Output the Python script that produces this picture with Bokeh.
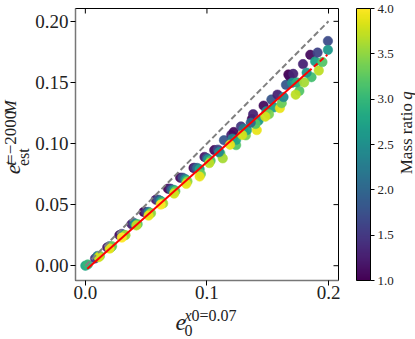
import math
from bokeh.plotting import figure
from bokeh.layouts import row, column
from bokeh.models import (Range1d, LinearAxis, FixedTicker, NumeralTickFormatter,
                          ColorBar, LinearColorMapper, Label, ColumnDataSource)
from bokeh.palettes import Viridis256
from bokeh.embed import file_html
from bokeh.resources import INLINE

# ---------------- data ----------------
e0 = [0.000, 0.002,
      0.008, 0.010, 0.012, 0.011,
      0.018, 0.020, 0.021, 0.022, 0.020,
      0.028, 0.030, 0.031, 0.032, 0.033, 0.030,
      0.038, 0.040, 0.041, 0.043, 0.042,
      0.048, 0.050, 0.052, 0.053, 0.054, 0.052,
      0.058, 0.060, 0.062, 0.063, 0.064, 0.062,
      0.068, 0.070, 0.071, 0.073, 0.074, 0.073,
      0.078, 0.080, 0.082, 0.083, 0.084, 0.083,
      0.089, 0.090, 0.092, 0.094, 0.095, 0.094,
      0.098, 0.100, 0.101, 0.103, 0.102,
      0.106, 0.109, 0.111, 0.113, 0.110, 0.114,
      0.120, 0.122, 0.124, 0.121, 0.124, 0.119,
      0.128, 0.130, 0.132, 0.133, 0.129,
      0.137, 0.138, 0.1425, 0.141, 0.140, 0.136,
      0.1466, 0.149, 0.153, 0.155, 0.151, 0.148,
      0.160, 0.1615, 0.158, 0.163, 0.165, 0.167,
      0.168, 0.171, 0.170, 0.176, 0.173, 0.174,
      0.179, 0.185, 0.186, 0.182, 0.180,
      0.189, 0.191, 0.192, 0.195,
      0.1995, 0.1995]
e_est = [0.000, 0.001,
         0.006, 0.008, 0.008, 0.007,
         0.015, 0.016, 0.015, 0.016, 0.014,
         0.025, 0.026, 0.025, 0.025, 0.025, 0.023,
         0.034, 0.035, 0.034, 0.034, 0.033,
         0.044, 0.044, 0.044, 0.043, 0.043, 0.041,
         0.054, 0.054, 0.053, 0.052, 0.051, 0.050,
         0.063, 0.063, 0.062, 0.062, 0.061, 0.059,
         0.072, 0.072, 0.071, 0.070, 0.069, 0.067,
         0.080, 0.080, 0.080, 0.079, 0.075, 0.073,
         0.089, 0.088, 0.087, 0.086, 0.084,
         0.0946, 0.095, 0.092, 0.0879, 0.093, 0.1027,
         0.107, 0.1094, 0.0987, 0.104, 0.103, 0.099,
         0.114, 0.112, 0.1067, 0.111, 0.107,
         0.120, 0.124, 0.1188, 0.111, 0.116, 0.117,
         0.131, 0.1265, 0.136, 0.1296, 0.124, 0.122,
         0.129, 0.133, 0.140, 0.138, 0.148, 0.1565,
         0.155, 0.157, 0.1497, 0.143, 0.140, 0.150,
         0.165, 0.1726, 0.1543, 0.158, 0.150,
         0.1672, 0.1744, 0.1597, 0.1667,
         0.1839, 0.1766]
q = [2.8, 3.0,
     1.5, 2.2, 3.4, 3.8,
     1.2, 2.0, 2.7, 3.3, 3.9,
     1.1, 1.6, 2.4, 3.0, 3.6, 4.0,
     1.3, 1.9, 2.6, 3.2, 3.7,
     1.0, 1.5, 2.2, 2.9, 3.5, 3.9,
     1.2, 1.8, 2.5, 3.1, 3.6, 4.0,
     1.0, 1.4, 2.0, 2.7, 3.3, 3.8,
     1.1, 1.7, 2.3, 2.9, 3.5, 3.9,
     1.0, 1.5, 2.1, 2.8, 3.3, 3.9,
     1.2, 1.9, 2.6, 3.2, 3.7,
     1.1, 1.6, 3.1, 3.6, 2.4, 1.8,
     1.3, 1.1, 3.2, 2.3, 2.8, 3.9,
     1.5, 2.2, 3.4, 2.7, 3.8,
     1.0, 1.3, 2.6, 3.9, 3.2, 2.0,
     1.1, 2.5, 1.8, 2.7, 3.4, 3.8,
     3.9, 3.3, 1.3, 2.4, 1.8, 1.0,
     1.1, 1.3, 2.5, 3.2, 3.7, 2.9,
     1.3, 1.1, 3.1, 2.6, 3.6,
     2.7, 1.6, 3.7, 3.2,
     1.7, 2.6]

identity_x = [0.0, 0.2]
identity_y = [0.0, 0.2]
fit_x = [0.0016, 0.183]
fit_y = [-0.0024, 0.1585]
fit_ext_x = [0.183, 0.199]
fit_ext_y = [0.1585, 0.1726]

x_ticks = [0.0, 0.1, 0.2]
y_ticks = [0.0, 0.05, 0.10, 0.15, 0.20]
cbar_ticks = [1.0, 1.5, 2.0, 2.5, 3.0, 3.5, 4.0]
q_low, q_high = 1.0, 4.0

# ---------------- layout (pixels; the page origin is the window's top-left) ----------------
XMIN, XMAX = -0.0081, 0.2082
YMIN, YMAX = -0.0121, 0.2105
LS, RS = 32, 19            # label strips left / right
BL, FW, BR = 41, 266, 57   # main figure: left border, frame, right border
BT, FH, BB = 8, 272, 26    # main figure: top border, frame, bottom border
HS = 33                    # bottom label strip
MW, MH = BL + FW + BR, BT + FH + BB
TW = LS + MW + RS
FONT = "Liberation Serif"
TXT = "#222222"

p = figure(width=MW, height=MH, x_range=Range1d(XMIN, XMAX), y_range=Range1d(YMIN, YMAX),
           output_backend="svg", toolbar_location=None,
           min_border_left=BL, min_border_right=BR, min_border_top=BT, min_border_bottom=BB,
           x_axis_type=None, y_axis_type=None)
p.outline_line_color = "black"
p.outline_line_width = 1
p.border_fill_color = "white"

def style_axis(ax, ticks, fmt):
    ax.ticker = FixedTicker(ticks=ticks)
    ax.formatter = NumeralTickFormatter(format=fmt)
    ax.minor_tick_line_color = None
    ax.major_tick_in = 0
    ax.major_tick_out = 5
    ax.major_tick_line_color = "black"
    ax.major_tick_line_width = 1
    ax.axis_line_color = "#777777"
    ax.axis_line_width = 1.5
    ax.major_label_text_font = FONT
    ax.major_label_text_font_size = "19px"
    ax.major_label_text_color = TXT

xb = LinearAxis(); style_axis(xb, x_ticks, "0.0"); xb.major_label_standoff = 0
yl = LinearAxis(); style_axis(yl, y_ticks, "0.00"); yl.major_label_standoff = 2
p.add_layout(xb, "below")
p.add_layout(yl, "left")

p.xgrid.ticker = FixedTicker(ticks=x_ticks)
p.ygrid.ticker = FixedTicker(ticks=y_ticks)
p.grid.grid_line_color = "#dedede"
p.grid.grid_line_width = 1

mapper = LinearColorMapper(palette=Viridis256, low=q_low, high=q_high)
src = ColumnDataSource(dict(x=e0, y=e_est, q=q))
p.scatter("x", "y", source=src, size=9.5, fill_color={"field": "q", "transform": mapper},
          line_color={"field": "q", "transform": mapper}, line_width=0.5, fill_alpha=0.95)

p.line(identity_x, identity_y, line_color="#808080", line_width=2, line_dash="6 3")
p.line(fit_x, fit_y, line_color="red", line_width=2)
p.line(fit_ext_x, fit_ext_y, line_color="red", line_width=2, line_dash="5 3")

# inward ticks on the top and right frame edges (half of each dash is clipped by the frame)
p.scatter([XMAX] * len(y_ticks), y_ticks, marker="dash", size=10, line_color="black", line_width=1)
p.scatter(x_ticks, [YMAX] * len(x_ticks), marker="dash", size=10, angle=math.pi / 2,
          line_color="black", line_width=1)

cb = ColorBar(color_mapper=mapper, ticker=FixedTicker(ticks=cbar_ticks),
              formatter=NumeralTickFormatter(format="0.0"),
              width=14, height=FH, padding=0, margin=0, location=(18, 0),
              bar_line_color="black", bar_line_width=1,
              major_tick_line_color="black", major_tick_in=0, major_tick_out=4,
              minor_tick_line_color=None,
              major_label_text_font=FONT, major_label_text_font_size="13px",
              major_label_text_color=TXT, label_standoff=3,
              background_fill_color=None, border_line_color=None)
p.add_layout(cb, "right")

# ---------------- label strips (real text pieces forming the math labels) ----------------
def strip(w, h):
    s = figure(width=w, height=h, x_range=Range1d(0, w), y_range=Range1d(0, h),
               output_backend="svg", toolbar_location=None, min_border=0,
               x_axis_type=None, y_axis_type=None)
    s.outline_line_color = None
    s.border_fill_color = "white"
    s.background_fill_color = "white"
    return s

left = strip(LS, MH)
right = strip(RS, MH)
bottom = strip(TW, HS)

def lab(fig, ox, oy, h, text, cx, cy, size, italic=False, angle=0.0):
    # (cx, cy): page pixel position of the text's centre; (ox, oy): strip's page origin
    fig.add_layout(Label(x=cx - ox, y=h - (cy - oy), text=text, angle=angle,
                         text_font=FONT, text_font_size=f"{size}px",
                         text_font_style="italic" if italic else "normal",
                         text_color=TXT, text_align="center", text_baseline="middle"))

R = math.pi / 2
# y label: e_est^{t=-2000M}  (reads bottom to top)
L = (left, 0, 0, MH)
lab(*L, "e", 12.3, 181.1, 22, True, R)
lab(*L, "est", 22.6, 167.3, 16, False, R)
lab(*L, "t", 9.5, 174.3, 17, True, R)
lab(*L, "=\u22122000", 9.5, 144.9, 17, False, R)
lab(*L, "M", 9.5, 111.2, 17, True, R)

# colorbar label "Mass ratio q"
Rr = (right, LS + MW, 0, MH)
lab(*Rr, "Mass ratio", 405.5, 146.4, 17, False, R)
lab(*Rr, "q", 405.5, 98.0, 17, True, R)

# x label: e_0^{x0=0.07}
B = (bottom, 0, MH, HS)
lab(*B, "e", 180.3, 322.0, 24, True)
lab(*B, "0", 188.0, 329.5, 16)
lab(*B, "x", 187.5, 315.0, 16, True)
lab(*B, "0=0.07", 213.6, 315.0, 16)

layout = column(row(left, p, right), bottom)
open("out.html", "w").write(file_html(layout, INLINE))
